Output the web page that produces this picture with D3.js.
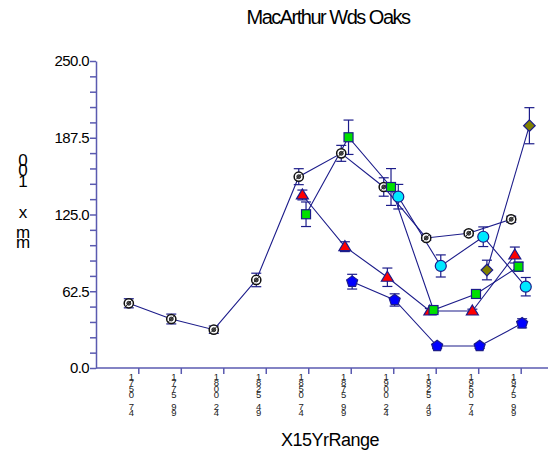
<!DOCTYPE html>
<html><head><meta charset="utf-8">
<script src="https://cdn.jsdelivr.net/npm/d3@7"></script>
<style>body{margin:0;background:#fff}svg{display:block}</style>
</head><body>
<svg id="c" width="555" height="456"></svg>
<script>
const title = "MacArthur Wds Oaks";
const xTitle = "X15YrRange";
const yTitle = "001  x mm";
const categories = ["1750-74","1775-99","1800-24","1825-49","1850-74","1875-99","1900-24","1925-49","1950-74","1975-99"];
const tickLabels = ["1750 74","1775 99","1800 24","1825 49","1850 74","1875 99","1900 24","1925 49","1950 74","1975 99"];
const yMajorTicks = [0, 62.5, 125, 187.5, 250];
const yMinorStep = 12.5;
const seriesNames = ["S1","S2","S3","S4","S5","S6"];

const s1Vals = [52.7, 39.9, 31.2, 71.7, 155.8, 174.8, 147.4, 105.9, 109.7, 121.1];
const s1Err  = [3.7, 4, 3, 5.5, 6.5, 6.5, 7.5, 2, 2, 2.5];
const s2Vals = [null, null, null, null, 140.9, 98.8, 73.9, 46.4, 46.4, 92.0];
const s2Err  = [null, null, null, null, 4, 4, 7.5, 2, 1.5, 6.5];
const s3Vals = [null, null, null, null, 125.2, 187.9, 147.4, 47.2, 60.3, 82.5];
const s3Err  = [null, null, null, null, 10, 14, 15, 2, 1.5, 3.7];
const s4Vals = [null, null, null, null, null, 70.3, 55.4, 17.9, 17.9, 36.4];
const s4Err  = [null, null, null, null, null, 6, 5, 2, 2, 3.7];
const s5Vals = [null, null, null, null, null, null, 139.5, 83.1, 106.9, 66.2];
const s5Err  = [null, null, null, null, null, null, 10, 9, 8, 7.5];
const s6Vals = [null, null, null, null, null, null, null, null, 79.8, 197.3];
const s6Err  = [null, null, null, null, null, null, null, null, 8, 14.7];

const seriesVals = [s1Vals, s2Vals, s3Vals, s4Vals, s5Vals, s6Vals];
const seriesErr = [s1Err, s2Err, s3Err, s4Err, s5Err, s6Err];
const seriesFill = ["#ffffff", "#ff0000", "#00e000", "#0000ff", "#00e8ff", "#808000"];
const seriesShape = ["ring", "triangle", "square", "pentagon", "circle", "diamond"];

const FONT = "'Liberation Sans', Arial, sans-serif";
const NAVY = "#1c1c8a";
const AXIS = "#5a5ab0";

const svg = d3.select("#c");
svg.append("rect").attr("width",555).attr("height",456).attr("fill","#fff");

const x = d3.scalePoint().domain(categories).range([131.3, 513.7]);
const TICK_SHIFT = 7;
const xTick = x.copy().range([131.3 + TICK_SHIFT, 513.7 + TICK_SHIFT]);
const off = d3.scalePoint().domain(seriesNames).range([-2.5, 15.7]);
const y = d3.scaleLinear().domain([0, 250]).range([368, 61]);

// title
svg.append("text").attr("x", 328).attr("y", 24).attr("text-anchor","middle")
  .attr("font-family", FONT).attr("font-size", 20).attr("letter-spacing", "-1.5px")
  .attr("fill","#000").text(title);

// y axis
const yAxis = d3.axisLeft(y)
  .tickValues(d3.range(0, 250 + 0.001, yMinorStep))
  .tickSize(6).tickSizeOuter(0)
  .tickFormat(d => yMajorTicks.includes(d) ? d.toFixed(1) : "");
const gy = svg.append("g").attr("transform","translate(96,0)").call(yAxis);
gy.select(".domain").attr("stroke", AXIS).attr("stroke-width", 1.5);
gy.selectAll(".tick line").attr("stroke", AXIS).attr("stroke-width", 1.5);
gy.selectAll(".tick text").attr("font-family", FONT).attr("font-size", 15)
  .attr("fill","#000").attr("x", -7).attr("letter-spacing","-0.6px");

// x axis line
svg.append("line").attr("x1", 96).attr("x2", 548).attr("y1", y(0)).attr("y2", y(0))
  .attr("stroke", AXIS).attr("stroke-width", 1.5);
const xAxis = d3.axisBottom(xTick).tickSize(6).tickSizeOuter(0).tickFormat("");
const gx = svg.append("g").attr("transform", `translate(0,${y(0)})`).call(xAxis);
gx.select(".domain").remove();
gx.selectAll(".tick line").attr("stroke", AXIS).attr("stroke-width", 1.5);

// x tick labels stacked vertically
const tl = svg.append("g");
categories.forEach((c, i) => {
  tickLabels[i].split("").forEach((ch, k) => {
    if (ch === " ") return;
    tl.append("text").attr("x", x(c)).attr("y", 380 + k * 6)
      .attr("text-anchor","middle").attr("font-family", FONT).attr("font-size", 9.5)
      .attr("fill","#222").text(ch);
  });
});

// axis titles
svg.append("text").attr("x", 330).attr("y", 446).attr("text-anchor","middle")
  .attr("font-family", FONT).attr("font-size", 18).attr("letter-spacing","-0.5px")
  .attr("fill","#000").text(xTitle);
yTitle.split("").forEach((ch, k) => {
  if (ch === " ") return;
  svg.append("text").attr("x", 23).attr("y", 166 + k * 10.3).attr("text-anchor","middle")
    .attr("font-family", FONT).attr("font-size", 17).attr("fill","#000").text(ch);
});

// series lines
const plot = svg.append("g");
seriesNames.forEach((s, si) => {
  const pts = categories.map((c, i) => ({c, v: seriesVals[si][i], e: seriesErr[si][i]}))
    .filter(d => d.v != null);
  const line = d3.line().x(d => x(d.c) + off(s)).y(d => y(d.v));
  plot.append("path").attr("d", line(pts)).attr("fill","none")
    .attr("stroke", NAVY).attr("stroke-width", 1.1);
});
// error bars
seriesNames.forEach((s, si) => {
  const pts = categories.map((c, i) => ({c, v: seriesVals[si][i], e: seriesErr[si][i]}))
    .filter(d => d.v != null);
  const g = plot.append("g").attr("stroke", NAVY).attr("stroke-width", 1.2);
  pts.forEach(d => {
    const cx = x(d.c) + off(s);
    g.append("line").attr("x1", cx).attr("x2", cx).attr("y1", y(d.v - d.e)).attr("y2", y(d.v + d.e));
    g.append("line").attr("x1", cx - 5).attr("x2", cx + 5).attr("y1", y(d.v - d.e)).attr("y2", y(d.v - d.e));
    g.append("line").attr("x1", cx - 5).attr("x2", cx + 5).attr("y1", y(d.v + d.e)).attr("y2", y(d.v + d.e));
  });
});
// markers
function polyPath(n, r, rot) {
  const p = d3.range(n).map(k => {
    const a = rot + k * 2 * Math.PI / n;
    return [r * Math.cos(a), r * Math.sin(a)];
  });
  return "M" + p.map(q => q.join(",")).join("L") + "Z";
}
seriesNames.forEach((s, si) => {
  const pts = categories.map((c, i) => ({c, v: seriesVals[si][i]})).filter(d => d.v != null);
  pts.forEach(d => {
    const g = plot.append("g").attr("transform", `translate(${x(d.c) + off(s)},${y(d.v)})`);
    const shape = seriesShape[si];
    if (shape === "ring") {
      g.append("circle").attr("r", 4.6).attr("fill", "#ffffff").attr("stroke", "#111").attr("stroke-width", 1.5);
      g.append("circle").attr("r", 2).attr("fill", "#555").attr("stroke", "#111").attr("stroke-width", 0.8);
      g.append("path").attr("d", "M-3,3L3,-3").attr("stroke", "#222").attr("stroke-width", 1);
    } else if (shape === "triangle") {
      g.append("path").attr("d", "M0,-6L6,4L-6,4Z").attr("fill", seriesFill[si]).attr("stroke", NAVY).attr("stroke-width", 1.2);
    } else if (shape === "square") {
      g.append("rect").attr("x", -4.5).attr("y", -4.5).attr("width", 9).attr("height", 9)
        .attr("fill", seriesFill[si]).attr("stroke", NAVY).attr("stroke-width", 1.2);
    } else if (shape === "pentagon") {
      g.append("path").attr("d", polyPath(5, 5.8, -Math.PI / 2)).attr("fill", seriesFill[si]).attr("stroke", NAVY).attr("stroke-width", 1.2);
    } else if (shape === "circle") {
      g.append("circle").attr("r", 5.5).attr("fill", seriesFill[si]).attr("stroke", NAVY).attr("stroke-width", 1.2);
    } else if (shape === "diamond") {
      g.append("path").attr("d", "M0,-5.8L5.8,0L0,5.8L-5.8,0Z").attr("fill", seriesFill[si]).attr("stroke", NAVY).attr("stroke-width", 1.2);
    }
  });
});
</script>
</body></html>
